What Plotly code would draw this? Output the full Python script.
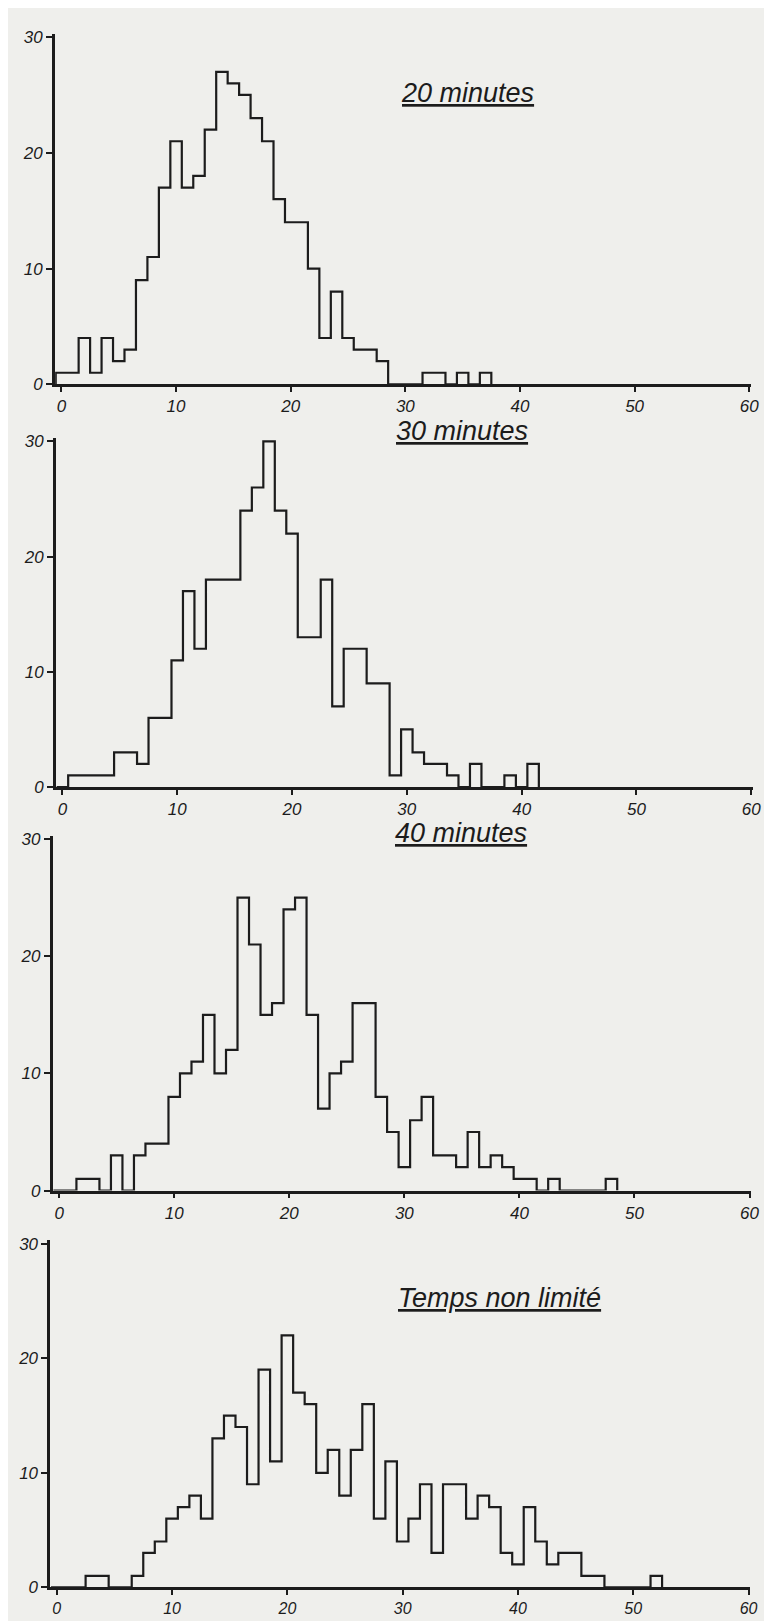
import plotly.graph_objects as go

# ---- data (counts per 1-unit class, class centres 0,1,2,...) ----
titles = ["20 minutes", "30 minutes", "40 minutes", "Temps non limité"]

counts_20 = [1, 1, 4, 1, 4, 2, 3, 9, 11, 17,
             21, 17, 18, 22, 27, 26, 25, 23, 21, 16,
             14, 14, 10, 4, 8, 4, 3, 3, 2, 0,
             0, 0, 1, 1, 0, 1, 0, 1]

counts_30 = [0, 1, 1, 1, 1, 3, 3, 2, 6, 6,
             11, 17, 12, 18, 18, 18, 24, 26, 30, 24,
             22, 13, 13, 18, 7, 12, 12, 9, 9, 1,
             5, 3, 2, 2, 1, 0, 2, 0, 0, 1,
             0, 2]

counts_40 = [0, 0, 1, 1, 0, 3, 0, 3, 4, 4,
             8, 10, 11, 15, 10, 12, 25, 21, 15, 16,
             24, 25, 15, 7, 10, 11, 16, 16, 8, 5,
             2, 6, 8, 3, 3, 2, 5, 2, 3, 2,
             1, 1, 0, 1, 0, 0, 0, 0, 1]

counts_nl = [0, 0, 0, 1, 1, 0, 0, 1, 3, 4,
             6, 7, 8, 6, 13, 15, 14, 9, 19, 11,
             22, 17, 16, 10, 12, 8, 12, 16, 6, 11,
             4, 6, 9, 3, 9, 9, 6, 8, 7, 3,
             2, 7, 4, 2, 3, 3, 1, 1, 0, 0,
             0, 0, 1]

x_ticks = [0, 10, 20, 30, 40, 50, 60]
y_ticks = [0, 10, 20, 30]

series = [counts_20, counts_30, counts_40, counts_nl]

# ---- layout geometry (pixels in the 772 x 1621 page) ----
W, H = 772, 1621
# (x of value 0, x of value 60, y of value 0, y of value 30)
panel_px = [
    (54.0, 749.0, 374.0, 23.3),
    (55.0, 751.0, 780.7, 431.7),
    (51.7, 749.3, 1188.3, 833.3),
    (49.3, 748.3, 1589.0, 1242.0),
]
title_px = [(464, 80), (459, 421), (458, 827), (497, 1297)]
tick_size = [17, 17, 17, 16]

XMIN, XMAX = -0.55, 60.15
YMAX = 30.3

INK = "#1c1c1c"
BG = "#efefec"
FONT = "Liberation Sans"

fig = go.Figure()

for i, counts in enumerate(series):
    centres = list(range(len(counts)))
    edges = [c - 0.5 for c in centres] + [centres[-1] + 0.5]
    xs = [edges[0]] + edges
    ys = [0] + counts + [0]
    ax = "" if i == 0 else str(i + 1)
    fig.add_trace(go.Scatter(
        x=xs, y=ys, mode="lines", line=dict(color=INK, width=2.2, shape="hv"),
        xaxis="x" + ax, yaxis="y" + ax, showlegend=False, hoverinfo="skip"))

    x0, x60, y0, y30 = panel_px[i]
    px = (x60 - x0) / 60.0
    py = (y0 - y30) / 30.0
    left = x0 + XMIN * px
    right = x0 + XMAX * px
    top = y0 - YMAX * py
    bottom = y0

    fig.layout["xaxis" + ax] = dict(
        domain=[left / W, right / W], range=[XMIN, XMAX], anchor="y" + ax,
        showline=True, linecolor=INK, linewidth=2.5, showgrid=False, zeroline=False,
        tickmode="array", tickvals=x_ticks, ticktext=[str(v) for v in x_ticks],
        ticks="outside", ticklen=5, tickwidth=2, tickcolor=INK,
        tickfont=dict(family=FONT, size=tick_size[i], color=INK, style="italic"),
        fixedrange=True)
    fig.layout["yaxis" + ax] = dict(
        domain=[1 - bottom / H, 1 - top / H], range=[0, YMAX], anchor="x" + ax,
        showline=True, linecolor=INK, linewidth=3, showgrid=False, zeroline=False,
        tickmode="array", tickvals=y_ticks, ticktext=[str(v) for v in y_ticks],
        ticks="outside", ticklen=6, tickwidth=2, tickcolor=INK,
        tickfont=dict(family=FONT, size=17, color=INK, style="italic"),
        fixedrange=True)

    tx, ty = title_px[i]
    fig.add_annotation(
        x=tx / W, y=1 - ty / H, xref="paper", yref="paper",
        text="<u>" + titles[i] + "</u>", showarrow=False,
        xanchor="center", yanchor="middle",
        font=dict(family=FONT, size=27, color=INK, style="italic"))

fig.update_layout(
    width=W, height=H,
    margin=dict(l=0, r=0, t=0, b=0),
    paper_bgcolor=BG, plot_bgcolor=BG,
)

fig.write_html("out.html")
